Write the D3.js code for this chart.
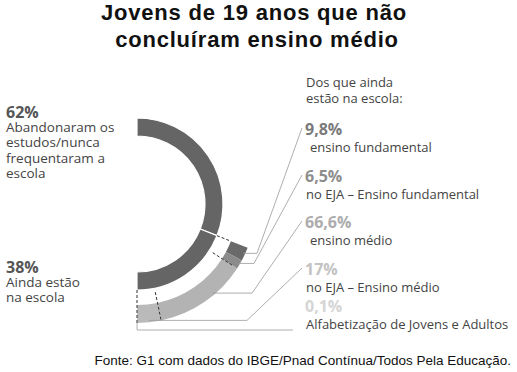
<!DOCTYPE html>
<html>
<head>
<meta charset="utf-8">
<script src="https://cdn.jsdelivr.net/npm/d3@7"></script>
<style>
  body { margin: 0; background: #fff; }
  svg { display: block; }
</style>
</head>
<body>
<div id="chart-container"></div>
<script>
// main split
var mainValues = [62, 38];
var mainLines = [
    ["Abandonaram os", "estudos/nunca", "frequentaram a", "escola"],
    ["Ainda estão", "na escola"]
];

// breakdown of the ones still in school
var subValues = [9.8, 6.5, 66.6, 17, 0.1];
var subLabels = [
    "ensino fundamental",
    "no EJA – Ensino fundamental",
    "ensino médio",
    "no EJA – Ensino médio",
    "Alfabetização de Jovens e Adultos"
];

var width = 517, height = 372;
var cx = 137, cy = 204;
var r1in = 68, r1out = 86, r2in = 101, r2out = 119;

var subFill = ["#6a6a6a", "#8b8b8b", "#b3b3b3", "#bababa", "#d6d6d6"];
var subText = ["#7a7a7a", "#8d8d8d", "#acacac", "#c3c3c3", "#d5d5d5"];

function pct(v) { return String(v).replace(".", ",") + "%"; }

var svg = d3.select("#chart-container").append("svg")
    .attr("width", width)
    .attr("height", height);

// title
var titleFont = "bold 22px 'Liberation Sans', Arial, sans-serif";
svg.append("text")
    .attr("x", 254).attr("y", 20)
    .attr("text-anchor", "middle")
    .style("font", titleFont)
    .style("letter-spacing", "0.8px")
    .attr("fill", "#111")
    .text("Jovens de 19 anos que não");
svg.append("text")
    .attr("x", 257).attr("y", 47)
    .attr("text-anchor", "middle")
    .style("font", titleFont)
    .style("letter-spacing", "0.8px")
    .attr("fill", "#111")
    .text("concluíram ensino médio");

var g = svg.append("g").attr("transform", "translate(" + cx + "," + cy + ")");

// outer half ring
var pie = d3.pie().sort(null).startAngle(0).endAngle(Math.PI);
var mainArcs = pie(mainValues);
var arc1 = d3.arc().innerRadius(r1in).outerRadius(r1out);

g.selectAll(".main")
    .data(mainArcs)
    .enter().append("path")
    .attr("class", "main")
    .attr("d", arc1)
    .attr("fill", "#656565")
    .attr("stroke", "#fff")
    .attr("stroke-width", 1.2);

// exploded ring for the 38%
var subPie = d3.pie().sort(null)
    .startAngle(mainArcs[1].startAngle)
    .endAngle(mainArcs[1].endAngle);
var subArcs = subPie(subValues);
var arc2 = d3.arc().innerRadius(r2in).outerRadius(r2out);

g.selectAll(".sub")
    .data(subArcs)
    .enter().append("path")
    .attr("class", "sub")
    .attr("d", arc2)
    .attr("fill", function (d, i) { return subFill[i]; });

function pt(a, r) { return [r * Math.sin(a), -r * Math.cos(a)]; }

// dashed guides
var guides = [
    [mainArcs[1].startAngle, r1out, r2in],
    [subArcs[1].endAngle, r1out + 4, r2in + 12],
    [subArcs[2].endAngle, r1out + 4, r2out],
    [mainArcs[1].endAngle, r1out, r2out]
];
g.selectAll(".guide")
    .data(guides)
    .enter().append("line")
    .attr("class", "guide")
    .attr("x1", function (d) { return pt(d[0], d[1])[0]; })
    .attr("y1", function (d) { return pt(d[0], d[1])[1]; })
    .attr("x2", function (d) { return pt(d[0], d[2])[0]; })
    .attr("y2", function (d) { return pt(d[0], d[2])[1]; })
    .attr("stroke", "#333")
    .attr("stroke-width", 1)
    .attr("stroke-dasharray", "3,2");

// left labels
var leftY = [118, 273];
mainValues.forEach(function (v, i) {
    svg.append("text")
        .attr("x", 6).attr("y", leftY[i])
        .style("font", "bold 16px 'Open Sans', sans-serif")
        .attr("fill", "#555")
        .text(v + "%");
    mainLines[i].forEach(function (line, j) {
        svg.append("text")
            .attr("x", 6).attr("y", leftY[i] + 13.5 + j * 15.5)
            .style("font", "13.5px 'Open Sans', sans-serif")
            .attr("fill", "#444")
            .text(line);
    });
});

// right header
svg.append("text").attr("x", 306).attr("y", 87)
    .style("font", "13px 'Open Sans', sans-serif").attr("fill", "#444")
    .text("Dos que ainda");
svg.append("text").attr("x", 306).attr("y", 103)
    .style("font", "13px 'Open Sans', sans-serif").attr("fill", "#444")
    .text("estão na escola:");

// right labels
var labelY = [135, 182, 228, 275, 312];
var labelDx = [4, 0, 4, 0, 0];
var elbowX = [257, 254, 252, 247, 293];
subValues.forEach(function (v, i) {
    svg.append("text")
        .attr("x", 305).attr("y", labelY[i])
        .style("font", "bold 16px 'Open Sans', sans-serif")
        .attr("fill", subText[i])
        .text(pct(v));
    svg.append("text")
        .attr("x", 306 + labelDx[i]).attr("y", labelY[i] + 17)
        .style("font", "13px 'Open Sans', sans-serif")
        .attr("fill", "#444")
        .text(subLabels[i]);

    // leader line
    var a = (subArcs[i].startAngle + subArcs[i].endAngle) / 2;
    if (i === 2) a = subArcs[i].startAngle + (subArcs[i].endAngle - subArcs[i].startAngle) * 0.37;
    var p = pt(a, r2out - 2);
    var x0 = cx + p[0], y0 = cy + p[1];
    var pts;
    if (i < subValues.length - 1) {
        pts = [[x0, y0], [elbowX[i], y0], [302, labelY[i] - 7]];
    } else {
        pts = [[x0, y0], [x0, y0 + 9], [elbowX[i], y0 + 9]];
    }
    svg.append("path")
        .attr("d", d3.line()(pts))
        .attr("fill", "none")
        .attr("stroke", "#999")
        .attr("stroke-width", 0.8);
});

// source
svg.append("text")
    .attr("x", 511).attr("y", 365)
    .attr("text-anchor", "end")
    .style("font", "13.5px 'Liberation Sans', Arial, sans-serif")
    .attr("fill", "#111")
    .text("Fonte: G1 com dados do IBGE/Pnad Contínua/Todos Pela Educação.");
</script>
</body>
</html>
